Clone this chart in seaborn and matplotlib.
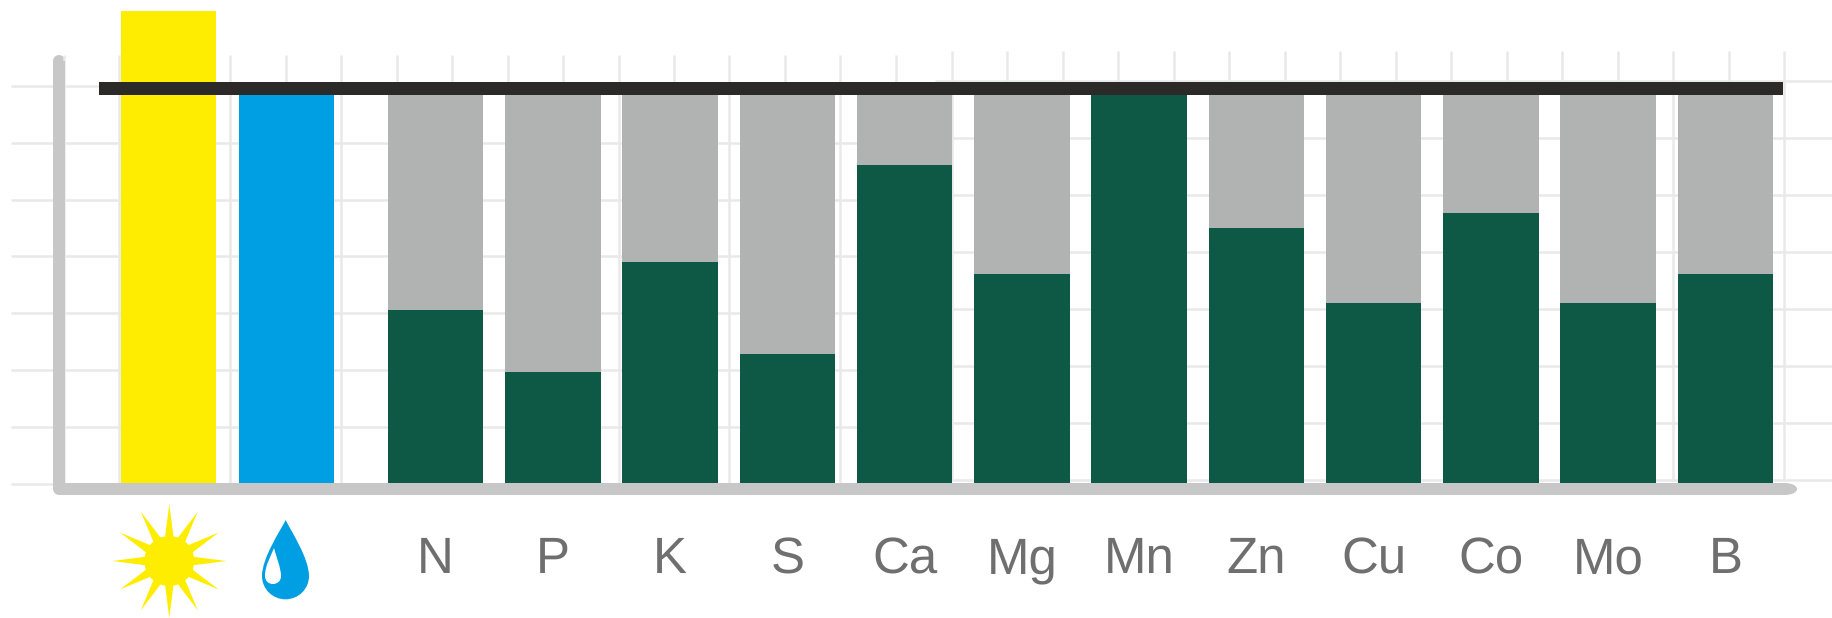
import numpy as np
import matplotlib
matplotlib.use('Agg')
import matplotlib.pyplot as plt
import seaborn as sns
from matplotlib.patches import Circle, Ellipse, PathPatch, Polygon, Rectangle
from matplotlib.path import Path

sns.set_theme(style='white')
plt.rcParams['font.family'] = ['Liberation Sans', 'DejaVu Sans']
plt.rcParams['text.hinting'] = 'none'
plt.rcParams['text.hinting_factor'] = 1

# values as % of the dark "full supply" line
elements = ['N', 'P', 'K', 'S', 'Ca', 'Mg', 'Mn', 'Zn', 'Cu', 'Co', 'Mo', 'B']
uptake = [44.7, 28.5, 57.0, 33.2, 82.0, 53.8, 100.0, 65.8, 46.5, 69.7, 46.5, 53.8]
full_level = [100.0] * 12
sun_value = 121.6
water_value = 100.0

GREEN = '#0E5945'
GRAY = '#B1B3B2'
YELLOW = '#FFED00'
BLUE = '#009FE3'
DARK = '#2B2A29'
AXIS = '#C6C7C6'
GRID = '#E9E9E9'
TEXT = '#706F6F'

W, H = 1832, 618
BASE_PX = 483
FULL_PX = 95
px_per_unit = (BASE_PX - FULL_PX) / 100

# bar centres in figure pixels
sun_x = 168.5
water_x = 286.5
element_x = 435.7 + 117.25 * np.arange(len(elements))
bar_width = 95.5 / 117.25

fig = plt.figure(figsize=(W / 100, H / 100), dpi=100, facecolor='white')


def pixel_axes(zorder):
    a = fig.add_axes([0, 0, 1, 1], zorder=zorder)
    a.set_xlim(0, W)
    a.set_ylim(H, 0)
    a.axis('off')
    return a


# background: the two slightly offset grid pieces and the axis lines
bg = pixel_axes(0)
for y in 85.7 + 56.9 * np.arange(8):
    bg.plot([11, 935], [y, y], color=GRID, lw=1.8, solid_capstyle='butt')
for x in 64 + 55.45 * np.arange(16):
    bg.plot([x, x], [55, 486], color=GRID, lw=1.8, solid_capstyle='butt')
for y in 81 + 57 * np.arange(8):
    bg.plot([935, W], [y, y], color=GRID, lw=1.8, solid_capstyle='butt')
for x in 952 + 55.47 * np.arange(16):
    bg.plot([x, x], [51, 481], color=GRID, lw=1.8, solid_capstyle='butt')
bg.plot([59, 59, 1785], [61, 489, 489], color=AXIS, lw=12 * 0.72,
        solid_capstyle='butt', solid_joinstyle='round')
bg.add_patch(Circle((59, 61), 6, color=AXIS, lw=0))
bg.add_patch(Ellipse((1785, 489), 24, 12, color=AXIS, lw=0))

# bars, on an axes whose y scale is the percentage
ax = fig.add_axes([0, 0, 1, 1], zorder=1)
ax.patch.set_alpha(0)
sns.barplot(x=np.r_[sun_x, water_x], y=[sun_value, water_value], hue=['sun', 'water'],
            palette=[YELLOW, BLUE], native_scale=True, width=95.5 / 118, dodge=False,
            saturation=1, legend=False, linewidth=0, ax=ax)
sns.barplot(x=element_x, y=full_level, color=GRAY, native_scale=True, width=bar_width,
            saturation=1, linewidth=0, ax=ax)
sns.barplot(x=element_x, y=uptake, color=GREEN, native_scale=True, width=bar_width,
            saturation=1, linewidth=0, ax=ax)
ax.set_xlim(0, W)
ax.set_ylim((BASE_PX - H) / px_per_unit, BASE_PX / px_per_unit)
ax.axis('off')

# foreground: the full supply line, labels and icons
fg = pixel_axes(2)
fg.add_patch(Rectangle((99, 81.7), 1684, 13.6, color=DARK, lw=0))
for x, name in zip(element_x, elements):
    fg.text(x, 573, name, ha='center', va='baseline', fontsize=36.5, color=TEXT)

# sun
cx, cy = 169.3, 561
fg.add_patch(Circle((cx, cy), 25, color=YELLOW, lw=0))
for deg in range(0, 360, 30):
    t = np.deg2rad(deg)
    d = np.array([np.cos(t), np.sin(t)])
    n = np.array([-d[1], d[0]])
    c = np.array([cx, cy])
    fg.add_patch(Polygon([c + 22 * d + 4.5 * n, c + 57 * d, c + 22 * d - 4.5 * n],
                         closed=True, color=YELLOW, lw=0))

# water drop
C4 = Path.CURVE4
drop = Path([(285.7, 520), (291, 531), (309, 558), (309, 576),
             (309, 589), (298.5, 599.3), (285.5, 599.3),
             (272.5, 599.3), (262, 589), (262, 576),
             (262, 558), (280, 531), (285.7, 520)],
            [Path.MOVETO] + [C4] * 12)
fg.add_patch(PathPatch(drop, color=BLUE, lw=0))
shine = Path([(274, 548), (276, 556), (281, 568), (281, 576),
              (281, 581), (277.5, 584), (273, 584),
              (268.5, 584), (265, 581), (265, 576),
              (265, 565), (271, 556), (274, 548)],
             [Path.MOVETO] + [C4] * 12)
fg.add_patch(PathPatch(shine, color='white', lw=0))

fig.savefig('out.png', dpi=100, facecolor='white')
